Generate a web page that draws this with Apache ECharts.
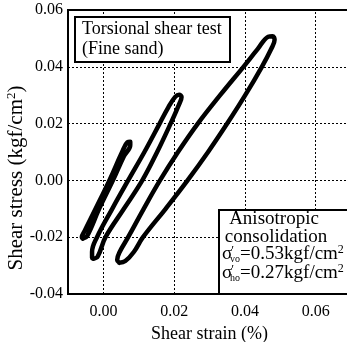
<!DOCTYPE html>
<html>
<head>
<meta charset="utf-8">
<script src="https://cdn.jsdelivr.net/npm/echarts@6/dist/echarts.min.js"></script>
<style>
html,body{margin:0;padding:0;background:#fff;}
#chart{width:347px;height:342px;}
</style>
</head>
<body>
<div id="chart"></div>
<script>
// ---- data ----
const xTickValues = [0, 0.02, 0.04, 0.06];
const xTickLabels = ['0.00', '0.02', '0.04', '0.06'];
const yTickValues = [-0.04, -0.02, 0.00, 0.02, 0.04, 0.06];
const yTickLabels = ['-0.04', '-0.02', '0.00', '0.02', '0.04', '0.06'];

// small loop (strain %, stress kgf/cm2)
const loopSmall = [
  [-0.0058, -0.0205], [-0.0046, -0.0196], [-0.0012, -0.0100], [0.0027, 0.0000],
  [0.0058, 0.0085], [0.0076, 0.0125], [0.0076, 0.0136], [0.0068, 0.0134],
  [0.0053, 0.0100], [0.0017, 0.0000], [-0.0022, -0.0100], [-0.0053, -0.0178],
  [-0.0061, -0.0200], [-0.0058, -0.0205]
];
// middle loop
const loopMiddle = [
  [-0.0028, -0.0276], [-0.0016, -0.0268], [0.0006, -0.0200], [0.0058, -0.0100],
  [0.0110, 0.0000], [0.0152, 0.0100], [0.0190, 0.0200], [0.0214, 0.0268],
  [0.0221, 0.0294], [0.0214, 0.0302], [0.0203, 0.0294], [0.0184, 0.0258],
  [0.0159, 0.0200], [0.0116, 0.0100], [0.0070, 0.0000], [0.0025, -0.0100],
  [-0.0018, -0.0200], [-0.0032, -0.0252], [-0.0032, -0.0272], [-0.0028, -0.0276]
];
// large loop
const loopLarge = [
  [0.0045, -0.0290], [0.0062, -0.0284], [0.0086, -0.0252], [0.0112, -0.0200],
  [0.0176, -0.0100], [0.0238, 0.0000], [0.0296, 0.0100], [0.0350, 0.0200],
  [0.0401, 0.0300], [0.0448, 0.0400], [0.0474, 0.0462], [0.0484, 0.0495],
  [0.0478, 0.0508], [0.0466, 0.0506], [0.0436, 0.0462], [0.0396, 0.0400],
  [0.0330, 0.0300], [0.0267, 0.0200], [0.0211, 0.0100], [0.0160, 0.0000],
  [0.0114, -0.0100], [0.0070, -0.0200], [0.0046, -0.0252], [0.0039, -0.0280],
  [0.0045, -0.0290]
];

const FONT = '"Liberation Serif", "Times New Roman", serif';

const chart = echarts.init(document.getElementById('chart'), null, {renderer: 'canvas'});

function loopSeries(data) {
  return {
    type: 'line', data: data, smooth: 0.4, symbol: 'none', z: 5,
    lineStyle: {color: '#000', width: 4.5, cap: 'round', join: 'round'}
  };
}

function sigmaRich() {
  return {
    a: {fontFamily: FONT, fontSize: 19, lineHeight: 20, verticalAlign: 'bottom'},
    p: {fontFamily: FONT, fontSize: 13, lineHeight: 20, verticalAlign: 'top', padding: [0, 0, 0, -1]},
    s: {fontFamily: FONT, fontSize: 10, lineHeight: 20, verticalAlign: 'bottom', padding: [0, 0, 0, -4]},
    u: {fontFamily: FONT, fontSize: 12, lineHeight: 20, verticalAlign: 'top'}
  };
}

const option = {
  animation: false,
  backgroundColor: '#fff',
  grid: {left: 68, top: 10, right: -4, bottom: 48, outerBoundsMode: 'none', containLabel: false,
         show: true, borderColor: '#000', borderWidth: 2, backgroundColor: 'transparent'},
  xAxis: {
    type: 'value', min: -0.01, max: 0.07, interval: 0.01,
    axisLine: {show: true, onZero: false, lineStyle: {color: '#000', width: 2}},
    axisTick: {show: false},
    splitLine: {show: false},
    axisLabel: {
      color: '#000', fontFamily: FONT, fontSize: 16, margin: 10,
      formatter: function (v) {
        for (let i = 0; i < xTickValues.length; i++) {
          if (Math.abs(v - xTickValues[i]) < 1e-9) return xTickLabels[i];
        }
        return '';
      }
    },
    name: 'Shear strain (%)', nameLocation: 'middle', nameGap: 27,
    nameTextStyle: {color: '#000', fontFamily: FONT, fontSize: 18}
  },
  yAxis: {
    type: 'value', min: -0.04, max: 0.06, interval: 0.02,
    axisLine: {show: true, onZero: false, lineStyle: {color: '#000', width: 2}},
    axisTick: {show: false},
    splitLine: {show: true, lineStyle: {color: '#000', width: 1, type: [2, 2]}},
    axisLabel: {
      color: '#000', fontFamily: FONT, fontSize: 16, margin: 5,
      formatter: function (v) {
        const i = Math.round((v - yTickValues[0]) / 0.02);
        return yTickLabels[i] !== undefined ? yTickLabels[i] : '';
      }
    }
  },
  series: [
    {
      type: 'line', data: [], symbol: 'none', z: 1, silent: true,
      markLine: {
        silent: true, symbol: ['none', 'none'], label: {show: false},
        lineStyle: {color: '#000', width: 1, type: [2, 2]},
        data: xTickValues.map(function (v) { return {xAxis: v}; })
      }
    },
    loopSeries(loopSmall),
    loopSeries(loopMiddle),
    loopSeries(loopLarge)
  ],
  graphic: [
    {type: 'rect', z: 100, shape: {x: 75, y: 17, width: 155, height: 45},
     style: {fill: '#fff', stroke: '#000', lineWidth: 2}},
    {type: 'text', z: 101, x: 82, y: 20,
     style: {text: 'Torsional shear test', font: '18px ' + FONT, fill: '#000'}},
    {type: 'text', z: 101, x: 82, y: 40,
     style: {text: '(Fine sand)', font: '18px ' + FONT, fill: '#000'}},
    {type: 'rect', z: 100, shape: {x: 219, y: 210, width: 140, height: 84},
     style: {fill: '#fff', stroke: '#000', lineWidth: 2}},
    {type: 'text', z: 101, x: 274, y: 210,
     style: {text: 'Anisotropic', font: '19px ' + FONT, fill: '#000', align: 'center'}},
    {type: 'text', z: 101, x: 276, y: 228,
     style: {text: 'consolidation', font: '19px ' + FONT, fill: '#000', align: 'center'}},
    {type: 'text', z: 101, x: 222, y: 244,
     style: {text: '{a|σ}{p|\u2032}{s|vo}{a|=0.53kgf/cm}{u|2}', fill: '#000', rich: sigmaRich()}},
    {type: 'text', z: 101, x: 222, y: 263,
     style: {text: '{a|σ}{p|\u2032}{s|ho}{a|=0.27kgf/cm}{u|2}', fill: '#000', rich: sigmaRich()}},
    {type: 'text', z: 101, x: 16, y: 178, rotation: Math.PI / 2,
     style: {
       text: '{a|Shear stress (kgf/cm}{u|2}{a|)}',
       align: 'center', verticalAlign: 'middle', fill: '#000',
       rich: {
         a: {fontFamily: FONT, fontSize: 21, lineHeight: 22, verticalAlign: 'bottom'},
         u: {fontFamily: FONT, fontSize: 13, lineHeight: 22, verticalAlign: 'top'}
       }
     }}
  ]
};
chart.setOption(option);
</script>
</body>
</html>
